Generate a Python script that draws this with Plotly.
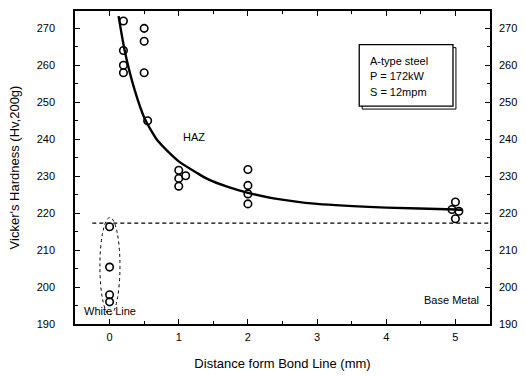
import plotly.graph_objects as go

# Measured hardness points
pt_x = [0.2, 0.2, 0.2, 0.2, 0.5, 0.5, 0.5, 0.55,
        1.0, 1.0, 1.0, 1.1,
        2.0, 2.0, 2.0, 2.0,
        4.95, 5.0, 5.05, 5.0]
pt_y = [272, 264, 260, 258, 270, 266.5, 258, 245,
        231.6, 229.4, 227.3, 230.1,
        231.8, 227.5, 225.2, 222.5,
        221, 223, 220.5, 218.5]

# White line points
wl_x = [0, 0, 0, 0]
wl_y = [216.3, 205.4, 197.9, 196.0]

# Fitted curve
cv_x = [0.13, 0.22, 0.36, 0.51, 0.7, 1.0, 1.28, 1.42, 1.71, 2.0, 2.37, 3.0, 4.0, 5.0, 5.1]
cv_y = [273.3, 263.8, 253.5, 245.5, 239.5, 234.0, 230.7, 229.2, 227.1, 225.5, 224.0, 222.5, 221.5, 221.0, 220.9]

# Base metal hardness reference (dashed)
base_x = [-0.25, 5.5]
base_y = [217.3, 217.3]

x_ticks = [0, 1, 2, 3, 4, 5]
y_ticks = [190, 200, 210, 220, 230, 240, 250, 260, 270]

FONT = "Arial, Liberation Sans, sans-serif"

fig = go.Figure()
fig.add_trace(go.Scatter(x=base_x, y=base_y, mode="lines",
                         line=dict(color="black", width=1.3, dash="4px,3px"),
                         showlegend=False))
fig.add_trace(go.Scatter(x=cv_x, y=cv_y, mode="lines", line_shape="spline",
                         line=dict(color="black", width=2.4, smoothing=0.6), showlegend=False))
fig.add_trace(go.Scatter(x=pt_x + wl_x, y=pt_y + wl_y, mode="markers",
                         marker=dict(symbol="circle-open", size=7.5,
                                     color="black", line=dict(width=1.6)),
                         showlegend=False))
# dummy trace for right axis labels
fig.add_trace(go.Scatter(x=[None], y=[None], yaxis="y2", showlegend=False))

# Ellipse around white line
fig.add_shape(type="circle", xref="x", yref="y", x0=-0.14, x1=0.15, y0=192.5, y1=218.8,
              line=dict(color="black", width=1, dash="dot"))

# Info box with shadow
px = lambda p: (p - 75) / 420.5
py = lambda p: (325 - p) / 316
fig.add_shape(type="rect", xref="paper", yref="paper",
              x0=px(366), x1=px(461), y0=py(108), y1=py(46),
              line=dict(color="black", width=1), fillcolor="white", layer="above")
fig.add_shape(type="rect", xref="paper", yref="paper",
              x0=px(363), x1=px(458), y0=py(105), y1=py(43),
              line=dict(color="black", width=1.3), fillcolor="white", layer="above")

for txt, yy in [("A-type steel", 59.3), ("P = 172kW", 74.8), ("S = 12mpm", 90.5)]:
    fig.add_annotation(xref="paper", yref="paper", x=px(372), y=py(yy), text=txt,
                       showarrow=False, xanchor="left", yanchor="middle",
                       font=dict(family=FONT, size=11, color="black"))

for txt, xx, yy in [("HAZ", 196, 136.7), ("Base Metal", 456, 300.7), ("White Line", 110, 311.7)]:
    fig.add_annotation(xref="paper", yref="paper", x=px(xx), y=py(yy), text=txt,
                       showarrow=False, xanchor="center", yanchor="middle",
                       font=dict(family=FONT, size=11, color="black"))

axis_common = dict(showgrid=False, zeroline=False, showline=True, linecolor="black",
                   linewidth=1.5, ticks="inside", ticklen=5, tickwidth=1.3, tickcolor="black",
                   tickfont=dict(family=FONT, size=11, color="black"))

fig.update_layout(
    width=526, height=378,
    margin=dict(l=75, r=30, t=9, b=53),
    plot_bgcolor="white", paper_bgcolor="white",
    font=dict(family=FONT, color="black"),
    xaxis=dict(range=[-0.5, 5.5], tickvals=x_ticks, mirror="ticks",
               minor=dict(ticks="inside", ticklen=3, dtick=0.5, tickcolor="black"),
               ticklabelstandoff=2,
               title=dict(text="Distance form Bond Line (mm)", font=dict(size=13), standoff=17),
               **axis_common),
    yaxis=dict(range=[190, 274.7], tickvals=y_ticks, mirror="ticks",
               minor=dict(ticks="inside", ticklen=3, dtick=5, tickcolor="black"),
               ticklabelstandoff=16,
               title=dict(text="Vicker's Hardness (Hv,200g)", font=dict(size=13), standoff=14),
               **axis_common),
    yaxis2=dict(range=[190, 274.7], tickvals=y_ticks, overlaying="y", side="right",
                showgrid=False, zeroline=False, ticks="", showline=False,
                ticklabelstandoff=8,
                tickfont=dict(family=FONT, size=11, color="black")),
)

fig.write_html("out.html", config={"displayModeBar": False},
               post_script="document.body.style.margin='0';document.body.style.overflow='hidden';")
